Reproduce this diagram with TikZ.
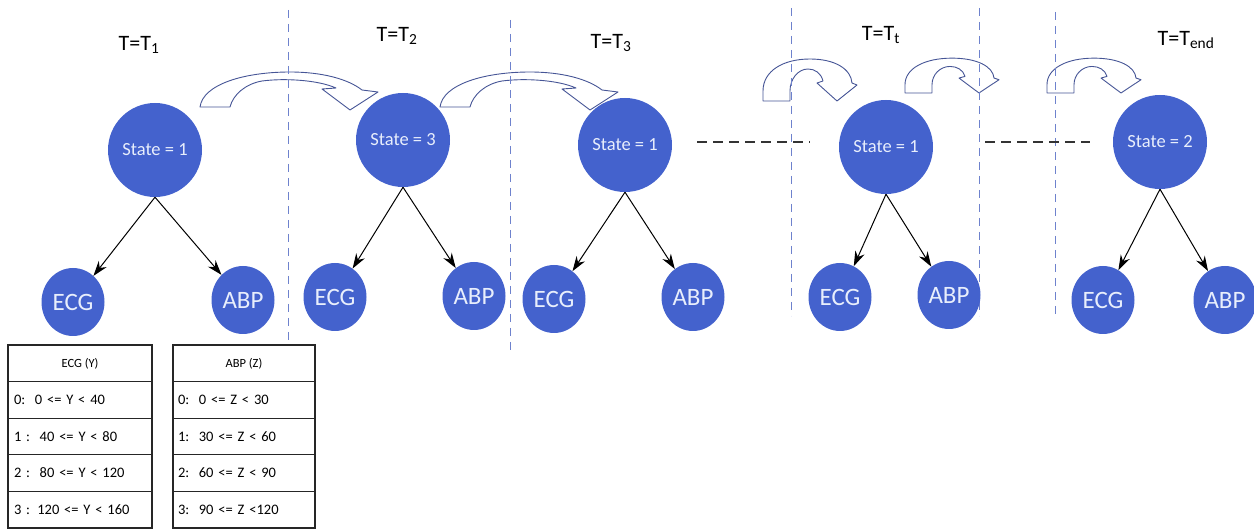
\documentclass[tikz,border=0pt]{standalone}
\usepackage{fontspec}
\setmainfont{Carlito}
\usetikzlibrary{arrows.meta,shapes.geometric}
\definecolor{nodeblue}{RGB}{68,98,205}
\definecolor{nodetext}{RGB}{232,238,252}
\definecolor{sepblue}{RGB}{110,130,205}
\definecolor{arrowedge}{RGB}{70,85,150}
\begin{document}
\begin{tikzpicture}[x=1pt,y=-1pt,
  statenode/.style={circle, fill=nodeblue, minimum size=94pt, inner sep=0pt, text=nodetext, font=\fontsize{18.5}{18.5}\selectfont},
  obsnode/.style={ellipse, fill=nodeblue, minimum width=63pt, minimum height=68pt, inner sep=0pt, text=nodetext, font=\fontsize{25}{25}\selectfont},
  titlenode/.style={font=\fontsize{22}{22}\selectfont, inner sep=0pt},
  link/.style={draw=black, line width=1pt, -{Stealth[length=15pt,width=10pt]}},
  sepline/.style={draw=sepblue, line width=1pt, dash pattern=on 8pt off 6pt},
  gapline/.style={draw=black!80, line width=1.4pt, dash pattern=on 10pt off 6pt},
  curvarrow/.style={draw=arrowedge, fill=white, line width=0.9pt, line join=round},
  hdcell/.style={draw=black!85, line width=1.1pt, minimum height=36.6pt, inner sep=0pt, font=\fontsize{12.5}{12.5}\selectfont},
  rowcell/.style={draw=black!85, line width=1.1pt, minimum height=36.6pt, inner sep=0pt, text width=132pt, align=left, font=\fontsize{14.5}{14.5}\selectfont}
]
\useasboundingbox (0,0) rectangle (1254,529);

% curved block arrows
\draw[curvarrow] (200,107) .. controls (203,84) and (245,72) .. (290,72) .. controls (322,72) and (348,79) .. (362,90) -- (378,92) -- (350,110) -- (322,89) -- (336,88) .. controls (318,80) and (285,78) .. (262,81) .. controls (245,84) and (233,95) .. (230,107) -- cycle;
\begin{scope}[shift={(240,0)}]
\draw[curvarrow] (200,107) .. controls (203,84) and (245,72) .. (290,72) .. controls (322,72) and (348,79) .. (362,90) -- (378,92) -- (350,110) -- (322,89) -- (336,88) .. controls (318,80) and (285,78) .. (262,81) .. controls (245,84) and (233,95) .. (230,107) -- cycle;
\end{scope}
\begin{scope}[shift={(763,101)}]
\draw[curvarrow] (0,0) -- (0,-10) .. controls (0,-30) and (20,-42) .. (47,-42) .. controls (72,-42) and (88,-32) .. (89,-18) -- (94,-16) -- (74,0) -- (54,-18) -- (60,-20) .. controls (58,-28) and (52,-32) .. (45,-32) .. controls (35,-32) and (27,-22) .. (27,-10) -- (27,0) -- cycle;
\end{scope}
\begin{scope}[shift={(905,93)}, yscale=0.83]
\draw[curvarrow] (0,0) -- (0,-10) .. controls (0,-30) and (20,-42) .. (47,-42) .. controls (72,-42) and (88,-32) .. (89,-18) -- (94,-16) -- (74,0) -- (54,-18) -- (60,-20) .. controls (58,-28) and (52,-32) .. (45,-32) .. controls (35,-32) and (27,-22) .. (27,-10) -- (27,0) -- cycle;
\end{scope}
\begin{scope}[shift={(1047,93)}, yscale=0.83]
\draw[curvarrow] (0,0) -- (0,-10) .. controls (0,-30) and (20,-42) .. (47,-42) .. controls (72,-42) and (88,-32) .. (89,-18) -- (94,-16) -- (74,0) -- (54,-18) -- (60,-20) .. controls (58,-28) and (52,-32) .. (45,-32) .. controls (35,-32) and (27,-22) .. (27,-10) -- (27,0) -- cycle;
\end{scope}

% separators
\draw[sepline] (288,10) -- (288,340);
\draw[sepline] (510,20) -- (510,352);
\draw[sepline] (791,8) -- (791,316);
\draw[sepline] (979,8) -- (979,316);
\draw[sepline] (1055,12) -- (1055,316);
\draw[gapline] (697,142) -- (810,142);
\draw[gapline] (985,142) -- (1090,142);

% titles
\node[titlenode] (t1) at (139,45) {T=T\textsubscript{1}};
\node[titlenode] (t2) at (397,36) {T=T\textsubscript{2}};
\node[titlenode] (t3) at (611,43) {T=T\textsubscript{3}};
\node[titlenode] (tt) at (881,35) {T=T\textsubscript{t}};
\node[titlenode] (te) at (1186,40) {T=T\textsubscript{end}};

% state nodes
\node[statenode] (s1) at (155,150) {State = 1};
\node[statenode] (s2) at (403,140) {State = 3};
\node[statenode] (s3) at (625,145) {State = 1};
\node[statenode] (s4) at (886,147) {State = 1};
\node[statenode] (s5) at (1160,142) {State = 2};

% observation nodes
\node[obsnode] (e1) at (73,302) {ECG};
\node[obsnode] (a1) at (243,300) {ABP};
\node[obsnode] (e2) at (335,297) {ECG};
\node[obsnode] (a2) at (474,296) {ABP};
\node[obsnode] (e3) at (554,299) {ECG};
\node[obsnode] (a3) at (693,297) {ABP};
\node[obsnode] (e4) at (840,297) {ECG};
\node[obsnode] (a4) at (949,295) {ABP};
\node[obsnode] (e5) at (1103,300) {ECG};
\node[obsnode] (a5) at (1225,300) {ABP};

% links
\foreach \s/\e/\a in {s1/e1/a1, s2/e2/a2, s3/e3/a3, s4/e4/a4, s5/e5/a5}{
  \draw[link] (\s.south) -- (\e);
  \draw[link] (\s.south) -- (\a);
}

% tables
\node[hdcell, minimum width=144pt] (ty) at (80,363.3) {ECG (Y)};
\node[rowcell, minimum width=144pt] (y0) at (80,399.9) {0:\ \ 0 <= Y < 40};
\node[rowcell, minimum width=144pt] (y1) at (80,436.5) {1 :\ \ 40 <= Y < 80};
\node[rowcell, minimum width=144pt] (y2) at (80,473.1) {2 :\ \ 80 <= Y < 120};
\node[rowcell, minimum width=144pt] (y3) at (80,509.7) {3 : 120 <= Y < 160};
\node[hdcell, minimum width=142pt] (tz) at (244,363.3) {ABP (Z)};
\node[rowcell, minimum width=142pt] (z0) at (244,399.9) {0:\ \ 0 <= Z < 30};
\node[rowcell, minimum width=142pt] (z1) at (244,436.5) {1:\ \ 30 <= Z < 60};
\node[rowcell, minimum width=142pt] (z2) at (244,473.1) {2:\ \ 60 <= Z < 90};
\node[rowcell, minimum width=142pt] (z3) at (244,509.7) {3:\ \ 90 <= Z <120};
\end{tikzpicture}
\end{document}
